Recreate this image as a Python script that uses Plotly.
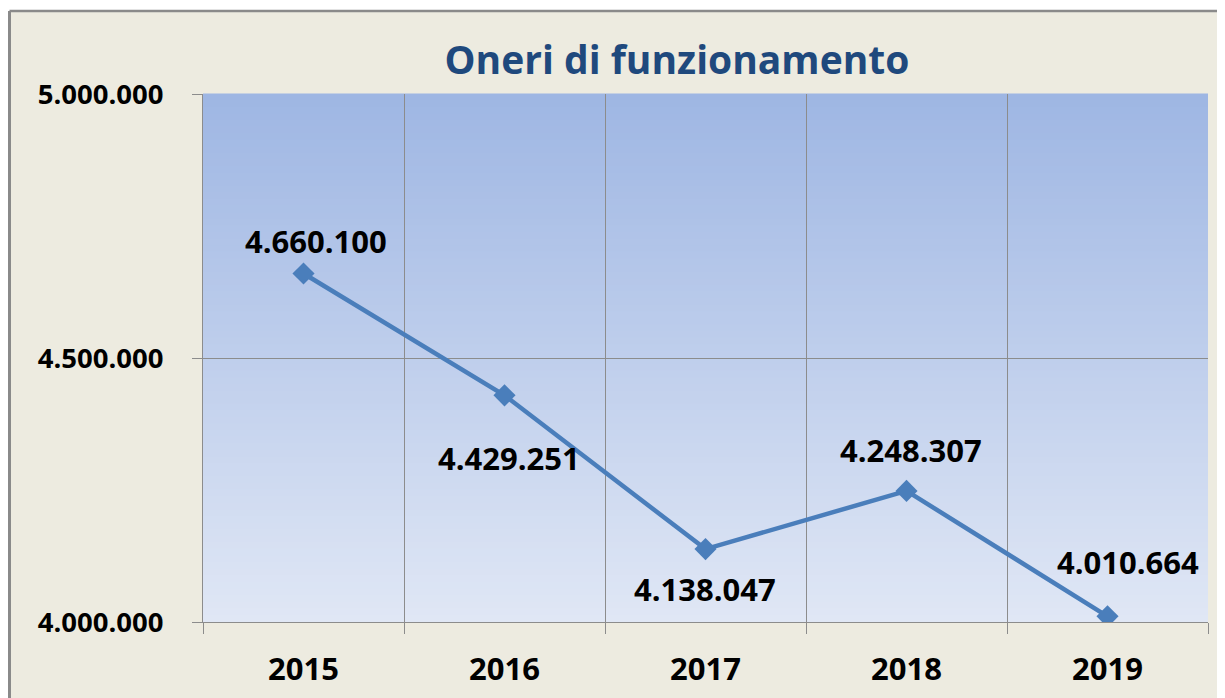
import plotly.graph_objects as go

years = ["2015", "2016", "2017", "2018", "2019"]
values = [4660100, 4429251, 4138047, 4248307, 4010664]
y_ticks = [4000000, 4500000, 5000000]

# label offsets (pixels) per point, matching manual placement
label_dx = [12, 4, -1, 4, 20]
label_dy = [32, -63, -40, 41, 54]

def fmt(v):
    return f"{v:,}".replace(",", ".")

xs = list(range(len(years)))

# page body has an 8px margin; compensate so the chart lands where intended
OFF = 8
W, H = 1225 - OFF, 698 - OFF
PL, PT, PW, PH = 203 - OFF, 94 - OFF, 1005, 528

def px_to_paper_x(px):
    return (px - OFF - PL) / PW

def px_to_paper_y(py):
    return (PT + PH - (py - OFF)) / PH

fig = go.Figure()
fig.add_trace(go.Scatter(
    x=xs, y=values, mode="lines+markers",
    line=dict(color="#4A7EBB", width=4.5),
    marker=dict(symbol="diamond", size=17, color="#4A7EBB"),
    hoverinfo="skip", showlegend=False,
))

for i, v in enumerate(values):
    fig.add_annotation(
        x=xs[i], y=v, xref="x", yref="y", text=fmt(v), showarrow=False,
        xshift=label_dx[i], yshift=label_dy[i],
        font=dict(family="Open Sans", size=31, color="#000000", weight="bold"),
    )

shapes = []
top = (158, 182, 227)
bot = (224, 231, 245)
n = 80
for k in range(n):
    t = (k + 0.5) / n
    c = tuple(round(top[j] + (bot[j] - top[j]) * t) for j in range(3))
    shapes.append(dict(type="rect", xref="x domain", yref="y domain",
                       x0=0, x1=1, y0=1 - (k + 1) / n - 0.001, y1=1 - k / n + 0.001,
                       fillcolor=f"rgb{c}", line=dict(width=0), layer="below"))

bx = px_to_paper_x(9.5)
by = px_to_paper_y(11)
shapes.append(dict(type="rect", xref="paper", yref="paper", x0=-0.5, x1=bx,
                   y0=-0.5, y1=1.5, fillcolor="white", line=dict(width=0), layer="below"))
shapes.append(dict(type="rect", xref="paper", yref="paper", x0=-0.5, x1=1.5,
                   y0=by, y1=1.5, fillcolor="white", line=dict(width=0), layer="below"))
shapes.append(dict(type="line", xref="paper", yref="paper", x0=bx, x1=bx,
                   y0=-0.5, y1=by, line=dict(color="#8a8a8a", width=3), layer="below"))
shapes.append(dict(type="line", xref="paper", yref="paper", x0=bx, x1=1.5,
                   y0=by, y1=by, line=dict(color="#8a8a8a", width=2.5), layer="below"))

fig.update_layout(
    width=W, height=H,
    margin=dict(l=PL, r=W - PL - PW, t=PT, b=H - PT - PH, autoexpand=False),
    paper_bgcolor="#EDEBE0",
    plot_bgcolor="rgba(0,0,0,0)",
    separators=",.",
    shapes=shapes,
    title=dict(text="Oneri di funzionamento", x=(677 - OFF) / W, xanchor="center",
               y=1 - (60 - OFF) / H, yanchor="middle", xref="container", yref="container",
               automargin=False,
               font=dict(family="Open Sans", size=39, color="#1F497D", weight="bold")),
    xaxis=dict(
        range=[-0.5, 4.5], tickmode="array", tickvals=xs, ticktext=years,
        ticks="", showgrid=False, zeroline=False, automargin=False,
        showline=True, linecolor="#8c8c8c", linewidth=1,
        ticklabelstandoff=20,
        tickfont=dict(family="Open Sans", size=31, color="#000000", weight="bold"),
        minor=dict(tick0=-0.5, dtick=1, ticks="outside", ticklen=11,
                   tickcolor="#8c8c8c", showgrid=True, gridcolor="#8c8c8c", gridwidth=1),
    ),
    yaxis=dict(
        range=[4000000, 5000000], tickmode="array", tickvals=y_ticks,
        tickformat=",d", ticks="outside", ticklen=10, tickcolor="#8c8c8c",
        showgrid=True, gridcolor="#8c8c8c", gridwidth=1, zeroline=False, automargin=False,
        showline=True, linecolor="#8c8c8c", linewidth=1,
        ticklabelstandoff=23,
        tickfont=dict(family="Open Sans", size=27.5, color="#000000", weight="bold"),
    ),
)

fig.write_html("out.html")
